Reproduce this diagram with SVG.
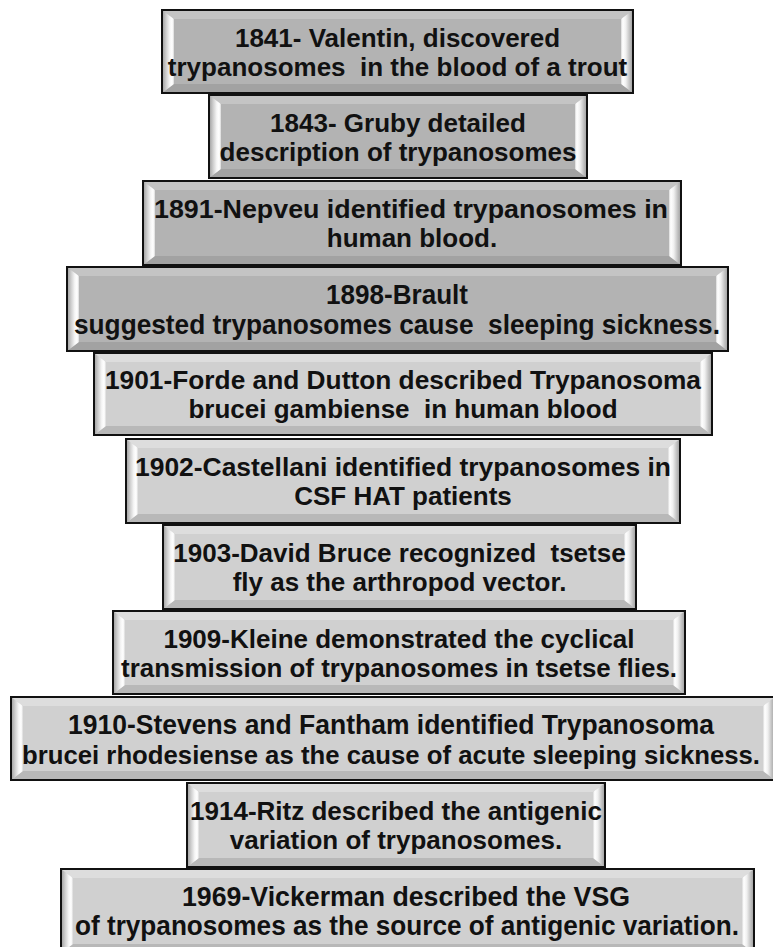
<svg xmlns="http://www.w3.org/2000/svg" width="773" height="947" viewBox="0 0 773 947">
  <defs>
    <!-- side bevels: grey at the outer edge, white highlight toward the face -->
    <linearGradient id="bevL" x1="0" y1="0" x2="1" y2="0">
      <stop offset="0" stop-color="#9c9c9c"/>
      <stop offset="0.35" stop-color="#cfcfcf"/>
      <stop offset="0.65" stop-color="#f6f6f6"/>
      <stop offset="0.85" stop-color="#ffffff"/>
      <stop offset="1" stop-color="#d8d8d8"/>
    </linearGradient>
    <linearGradient id="bevR" x1="0" y1="0" x2="1" y2="0">
      <stop offset="0" stop-color="#d8d8d8"/>
      <stop offset="0.15" stop-color="#ffffff"/>
      <stop offset="0.4" stop-color="#f0f0f0"/>
      <stop offset="0.7" stop-color="#c4c4c4"/>
      <stop offset="1" stop-color="#9c9c9c"/>
    </linearGradient>
  </defs>
  <style>
    .dk .face { fill: #b3b3b3; }
    .dk .top { fill: #c4c4c4; }
    .dk .bot { fill: #a2a2a2; }
    .lt .face { fill: #d0d0d0; }
    .lt .top { fill: #dddddd; }
    .lt .bot { fill: #b8b8b8; }
    .left { fill: url(#bevL); }
    .right { fill: url(#bevR); }
    .edge { fill: none; stroke: #111111; stroke-width: 2; }
    text { font-family: "Liberation Sans", Arial, sans-serif; font-weight: bold; font-size: 26px; fill: #111111; text-anchor: middle; white-space: pre; }
    text.narrow { font-size: 28px; }
    text.mid { font-size: 27px; }
  </style>

  <rect width="773" height="947" fill="#ffffff"/>

  <g id="event-1841" class="dk">
    <rect class="face" x="162" y="10" width="471" height="83"/>
    <polygon class="top" points="162,10 633,10 621,19 174,19"/>
    <polygon class="bot" points="162,93 633,93 621,84 174,84"/>
    <polygon class="left" points="162,10 174,19 174,84 162,93"/>
    <polygon class="right" points="633,10 621,19 621,84 633,93"/>
    <rect class="edge" x="162" y="10" width="471" height="83"/>
    <text x="397.5" y="46.5">1841- Valentin, discovered</text>
    <text x="397.5" y="75.5" xml:space="preserve">trypanosomes  in the blood of a trout</text>
  </g>

  <g id="event-1843" class="dk">
    <rect class="face" x="209" y="95" width="378" height="83"/>
    <polygon class="top" points="209,95 587,95 575,104 221,104"/>
    <polygon class="bot" points="209,178 587,178 575,169 221,169"/>
    <polygon class="left" points="209,95 221,104 221,169 209,178"/>
    <polygon class="right" points="587,95 575,104 575,169 587,178"/>
    <rect class="edge" x="209" y="95" width="378" height="83"/>
    <text x="398" y="131.5">1843- Gruby detailed</text>
    <text x="398" y="160.5">description of trypanosomes</text>
  </g>

  <g id="event-1891" class="dk">
    <rect class="face" x="143" y="181" width="538" height="84"/>
    <polygon class="top" points="143,181 681,181 669,190 155,190"/>
    <polygon class="bot" points="143,265 681,265 669,256 155,256"/>
    <polygon class="left" points="143,181 155,190 155,256 143,265"/>
    <polygon class="right" points="681,181 669,190 669,256 681,265"/>
    <rect class="edge" x="143" y="181" width="538" height="84"/>
    <text x="411" y="218" textLength="514" lengthAdjust="spacingAndGlyphs">1891-Nepveu identified trypanosomes in</text>
    <text x="412" y="247">human blood.</text>
  </g>

  <g id="event-1898" class="dk">
    <rect class="face" x="67" y="267" width="661" height="84"/>
    <polygon class="top" points="67,267 728,267 716,276 79,276"/>
    <polygon class="bot" points="67,351 728,351 716,342 79,342"/>
    <polygon class="left" points="67,267 79,276 79,342 67,351"/>
    <polygon class="right" points="728,267 716,276 716,342 728,351"/>
    <rect class="edge" x="67" y="267" width="661" height="84"/>
    <text class="narrow" x="397" y="304" textLength="142" lengthAdjust="spacingAndGlyphs">1898-Brault</text>
    <text class="narrow" x="397" y="334" xml:space="preserve" textLength="646" lengthAdjust="spacingAndGlyphs">suggested trypanosomes cause  sleeping sickness.</text>
  </g>

  <g id="event-1901" class="lt">
    <rect class="face" x="94" y="353" width="618" height="82"/>
    <polygon class="top" points="94,353 712,353 700,362 106,362"/>
    <polygon class="bot" points="94,435 712,435 700,426 106,426"/>
    <polygon class="left" points="94,353 106,362 106,426 94,435"/>
    <polygon class="right" points="712,353 700,362 700,426 712,435"/>
    <rect class="edge" x="94" y="353" width="618" height="82"/>
    <text x="403" y="389" textLength="596" lengthAdjust="spacingAndGlyphs">1901-Forde and Dutton described Trypanosoma</text>
    <text x="403" y="418" xml:space="preserve">brucei gambiense  in human blood</text>
  </g>

  <g id="event-1902" class="lt">
    <rect class="face" x="126" y="439" width="554" height="84"/>
    <polygon class="top" points="126,439 680,439 668,448 138,448"/>
    <polygon class="bot" points="126,523 680,523 668,514 138,514"/>
    <polygon class="left" points="126,439 138,448 138,514 126,523"/>
    <polygon class="right" points="680,439 668,448 668,514 680,523"/>
    <rect class="edge" x="126" y="439" width="554" height="84"/>
    <text x="403" y="476" textLength="536" lengthAdjust="spacingAndGlyphs">1902-Castellani identified trypanosomes in</text>
    <text x="403" y="505">CSF HAT patients</text>
  </g>

  <g id="event-1903" class="lt">
    <rect class="face" x="163" y="525" width="473" height="84"/>
    <polygon class="top" points="163,525 636,525 624,534 175,534"/>
    <polygon class="bot" points="163,609 636,609 624,600 175,600"/>
    <polygon class="left" points="163,525 175,534 175,600 163,609"/>
    <polygon class="right" points="636,525 624,534 624,600 636,609"/>
    <rect class="edge" x="163" y="525" width="473" height="84"/>
    <text x="399.5" y="562" xml:space="preserve">1903-David Bruce recognized  tsetse</text>
    <text x="399.5" y="591">fly as the arthropod vector.</text>
  </g>

  <g id="event-1909" class="lt">
    <rect class="face" x="113" y="611" width="572" height="83"/>
    <polygon class="top" points="113,611 685,611 673,620 125,620"/>
    <polygon class="bot" points="113,694 685,694 673,685 125,685"/>
    <polygon class="left" points="113,611 125,620 125,685 113,694"/>
    <polygon class="right" points="685,611 673,620 673,685 685,694"/>
    <rect class="edge" x="113" y="611" width="572" height="83"/>
    <text x="399" y="647.5">1909-Kleine demonstrated the cyclical</text>
    <text x="399" y="676.5" textLength="556" lengthAdjust="spacingAndGlyphs">transmission of trypanosomes in tsetse flies.</text>
  </g>

  <g id="event-1910" class="lt">
    <rect class="face" x="11" y="697" width="764" height="83"/>
    <polygon class="top" points="11,697 775,697 763,706 23,706"/>
    <polygon class="bot" points="11,780 775,780 763,771 23,771"/>
    <polygon class="left" points="11,697 23,706 23,771 11,780"/>
    <polygon class="right" points="775,697 763,706 763,771 775,780"/>
    <rect class="edge" x="11" y="697" width="764" height="83"/>
    <text class="narrow" x="391" y="734" textLength="646" lengthAdjust="spacingAndGlyphs">1910-Stevens and Fantham identified Trypanosoma</text>
    <text x="391" y="764" textLength="738" lengthAdjust="spacingAndGlyphs">brucei rhodesiense as the cause of acute sleeping sickness.</text>
  </g>

  <g id="event-1914" class="lt">
    <rect class="face" x="187" y="783" width="418" height="84"/>
    <polygon class="top" points="187,783 605,783 593,792 199,792"/>
    <polygon class="bot" points="187,867 605,867 593,858 199,858"/>
    <polygon class="left" points="187,783 199,792 199,858 187,867"/>
    <polygon class="right" points="605,783 593,792 593,858 605,867"/>
    <rect class="edge" x="187" y="783" width="418" height="84"/>
    <text x="396" y="820">1914-Ritz described the antigenic</text>
    <text x="396" y="849">variation of trypanosomes.</text>
  </g>

  <g id="event-1969" class="lt">
    <rect class="face" x="61" y="869" width="693" height="84"/>
    <polygon class="top" points="61,869 754,869 742,878 73,878"/>
    <polygon class="bot" points="61,953 754,953 742,944 73,944"/>
    <polygon class="left" points="61,869 73,878 73,944 61,953"/>
    <polygon class="right" points="754,869 742,878 742,944 754,953"/>
    <rect class="edge" x="61" y="869" width="693" height="84"/>
    <text class="narrow" x="406" y="906" textLength="448" lengthAdjust="spacingAndGlyphs">1969-Vickerman described the VSG</text>
    <text class="mid" x="407" y="935" textLength="664" lengthAdjust="spacingAndGlyphs">of trypanosomes as the source of antigenic variation.</text>
  </g>

  <!-- stacked timeline boxes touch edge to edge; no separate connectors -->
  <g id="connectors"/>
</svg>
